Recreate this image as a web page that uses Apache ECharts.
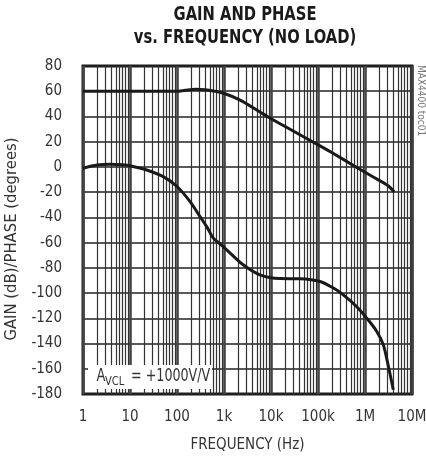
<!DOCTYPE html>
<html>
<head>
<meta charset="utf-8">
<script src="https://cdn.jsdelivr.net/npm/echarts@6/dist/echarts.min.js"></script>
<style>html,body{margin:0;padding:0;background:#fff}#c{width:426px;height:459px}</style>
</head>
<body>
<div id="c"></div>
<script>
// ---- data ----
var gainFreq  = [1, 10, 100, 150, 250, 400, 600, 950, 2200, 5800, 8700, 20000, 78000, 200000, 700000, 1500000, 3000000, 4200000];
var gainDb    = [60, 60, 60, 60.8, 61.5, 61.2, 60.2, 58.6, 53, 43.6, 39.6, 32, 19.8, 11.2, -0.8, -8, -14.5, -19.8];
var phaseFreq = [1, 2, 3.75, 7, 10, 22.7, 51, 100, 190, 309, 428, 593, 822, 1140, 2560, 5800, 15500, 41000, 110000, 213000, 346000, 660000, 1090000, 1780000, 2450000, 3150000, 4000000];
var phaseDeg  = [-1, 1.5, 2.1, 1.7, 1.0, -2.4, -7.7, -15.5, -27.5, -39.4, -47.3, -56.5, -61, -65.7, -77.6, -85.5, -88.5, -88.7, -90.8, -96, -101.4, -110.6, -119.9, -130.4, -141, -158.2, -176.6];
var xTickValues = [1, 10, 100, 1000, 10000, 100000, 1000000, 10000000];
var xTickLabels = ['1', '10', '100', '1k', '10k', '100k', '1M', '10M'];
var yMin = -180, yMax = 80, yStep = 20;

var FONT = "'Liberation Sans Narrow','DejaVu Sans Condensed','Liberation Sans',sans-serif";

function pairs(xs, ys){ return xs.map(function(x,i){ return [x, ys[i]]; }); }

// minor log grid lines 2..9 x 10^k
var minorLines = [];
for (var k = 0; k < 7; k++) {
  for (var m = 2; m <= 9; m++) minorLines.push({ xAxis: m * Math.pow(10, k) });
}

var chart = echarts.init(document.getElementById('c'), null, { renderer: 'canvas' });
chart.setOption({
  animation: false,
  backgroundColor: '#fff',
  grid: { left: 83, top: 66, width: 329, height: 328, show: true, borderColor: '#1a1a1a', borderWidth: 3,
          backgroundColor: 'transparent', containLabel: false, outerBoundsMode: 'none' },
  xAxis: {
    type: 'log', logBase: 10, min: 1, max: 10000000,
    name: 'FREQUENCY (Hz)', nameLocation: 'middle', nameGap: 44,
    nameTextStyle: { fontFamily: FONT, fontSize: 15, color: '#333' },
    axisLine: { show: false }, axisTick: { show: false },
    axisLabel: { margin: 16, fontFamily: FONT, fontSize: 15, color: '#333', hideOverlap: false,
      formatter: function(v){ var i = xTickValues.indexOf(Math.round(v)); return i >= 0 ? xTickLabels[i] : ''; } },
    splitLine: { show: true, lineStyle: { color: '#444', width: 2.6 } },
    minorTick: { show: false }, minorSplitLine: { show: false }
  },
  yAxis: {
    type: 'value', min: yMin, max: yMax, interval: yStep,
    name: 'GAIN (dB)/PHASE (degrees)', nameLocation: 'middle', nameGap: 57,
    nameTextStyle: { fontFamily: FONT, fontSize: 16.5, color: '#333', padding: [0, 0, 0, -18] },
    axisLine: { show: false }, axisTick: { show: false },
    axisLabel: { margin: 21, fontFamily: FONT, fontSize: 15, color: '#333' },
    splitLine: { show: true, lineStyle: { color: '#222', width: 1.6 } }
  },
  series: [
    {
      type: 'line', name: 'minor', data: [], silent: true,
      markLine: { silent: true, symbol: 'none', label: { show: false },
        lineStyle: { color: '#333', width: 1.2, type: 'solid' }, data: minorLines }
    },
    {
      type: 'line', name: 'gain', data: pairs(gainFreq, gainDb), smooth: 0.3,
      showSymbol: false, lineStyle: { color: '#1a1a1a', width: 3 }, z: 5
    },
    {
      type: 'line', name: 'phase', data: pairs(phaseFreq, phaseDeg), smooth: 0.3,
      showSymbol: false, lineStyle: { color: '#1a1a1a', width: 3 }, z: 5
    }
  ],
  graphic: [
    { type: 'text', x: 245, y: 15, scaleX: 0.82, style: { text: 'GAIN AND PHASE', fontFamily: FONT, fontWeight: 'bold', fontSize: 20, fill: '#1a1a1a', textAlign: 'center', textVerticalAlign: 'middle' } },
    { type: 'text', x: 245, y: 38, scaleX: 0.82, style: { text: 'vs. FREQUENCY (NO LOAD)', fontFamily: FONT, fontWeight: 'bold', fontSize: 20, fill: '#1a1a1a', textAlign: 'center', textVerticalAlign: 'middle' } },
    { type: 'rect', shape: { x: 88, y: 365, width: 124, height: 24 }, style: { fill: '#fff' }, z: 10 },
    { type: 'text', x: 96.5, y: 377, scaleX: 0.85, style: { text: 'A', fontFamily: FONT, fontSize: 17, fill: '#333', textVerticalAlign: 'middle' }, z: 11 },
    { type: 'text', x: 105, y: 382, scaleX: 0.85, style: { text: 'VCL', fontFamily: FONT, fontSize: 13, fill: '#333', textVerticalAlign: 'middle' }, z: 11 },
    { type: 'text', x: 131, y: 377, scaleX: 0.83, style: { text: '= +1000V/V', fontFamily: FONT, fontSize: 17, fill: '#333', textVerticalAlign: 'middle' }, z: 11 },
    { type: 'text', x: 421, y: 65, rotation: -Math.PI / 2, style: { text: 'MAX4400 toc01', fontFamily: FONT, fontSize: 10, fill: '#777', textVerticalAlign: 'middle' }, z: 11 }
  ]
});
</script>
</body>
</html>
